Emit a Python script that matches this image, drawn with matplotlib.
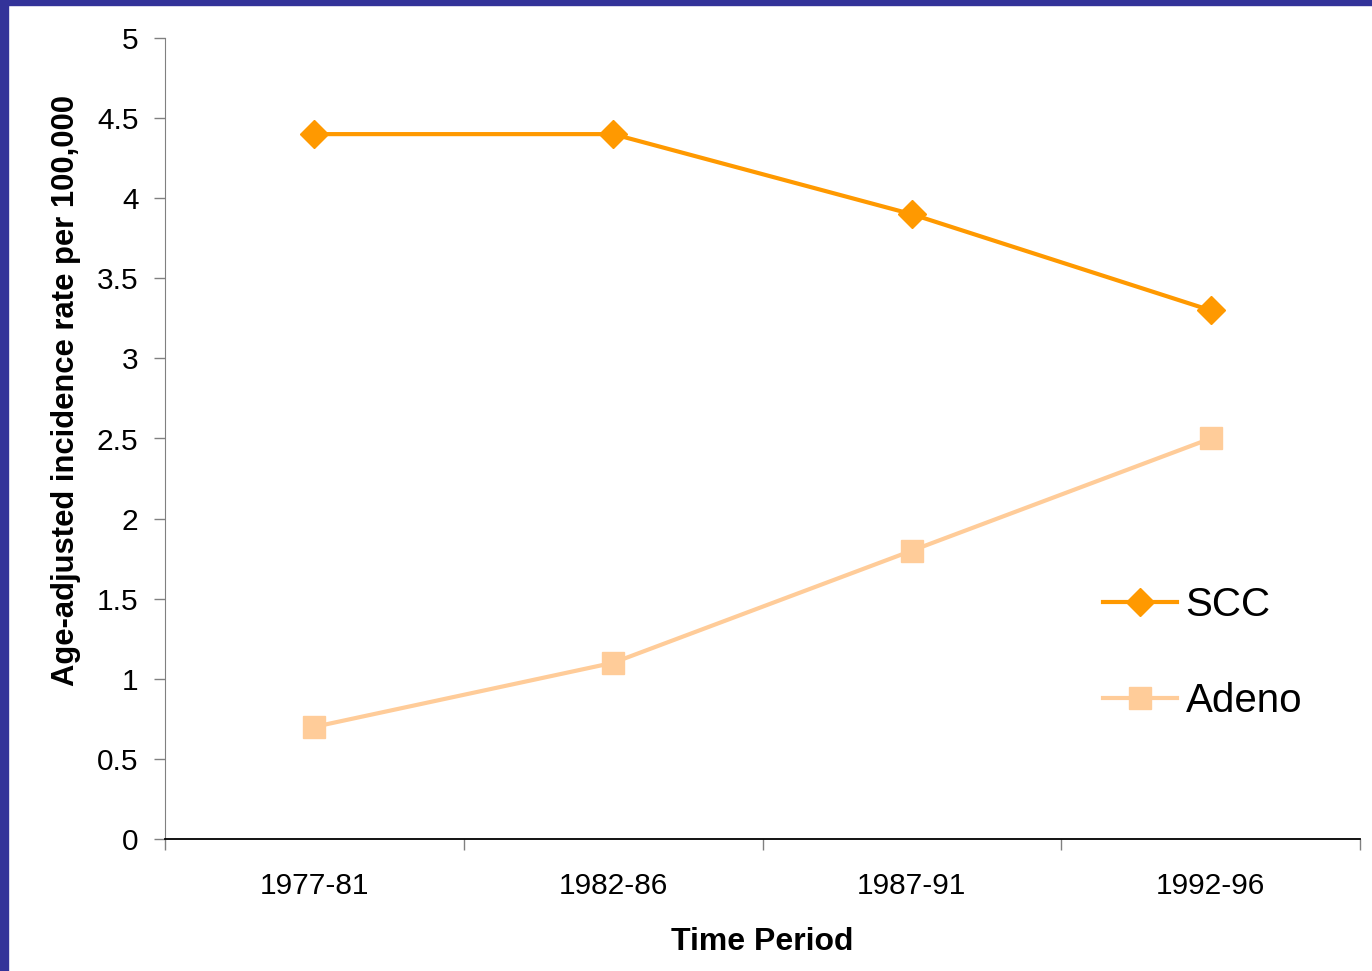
import matplotlib
matplotlib.use("Agg")
import matplotlib.pyplot as plt
from matplotlib.patches import Rectangle

periods = ["1977-81", "1982-86", "1987-91", "1992-96"]
scc = [4.4, 4.4, 3.9, 3.3]
adeno = [0.7, 1.1, 1.8, 2.5]
yticks = [0, 0.5, 1, 1.5, 2, 2.5, 3, 3.5, 4, 4.5, 5]
ytick_labels = ["0", "0.5", "1", "1.5", "2", "2.5", "3", "3.5", "4", "4.5", "5"]

plt.rcParams['font.family'] = ['Liberation Sans', 'DejaVu Sans']

W, H = 1372, 971
fig = plt.figure(figsize=(W / 100, H / 100), dpi=100)
fig.patches.append(Rectangle((0, 1 - 5 / H), 1, 5 / H, transform=fig.transFigure,
                             color="#333399", zorder=0))
fig.patches.append(Rectangle((0, 0), 8 / W, 1, transform=fig.transFigure,
                             color="#333399", zorder=0))

ax = fig.add_axes([165 / W, 1 - 839 / H, (1360 - 165) / W, (839 - 38) / H])
x = list(range(len(periods)))
ax.plot(x, scc, color="#FF9900", lw=3, marker="D", ms=14, label="SCC", clip_on=False)
ax.plot(x, adeno, color="#FFCC99", lw=3, marker="s", ms=16, label="Adeno", clip_on=False)

ax.set_xlim(-0.5, len(periods) - 0.5)
ax.set_ylim(0, 5)
ax.set_yticks(yticks)
ax.set_yticklabels(ytick_labels, fontsize=21.5)
ax.set_xticks(x)
ax.set_xticklabels(periods, fontsize=21.5)
ax.tick_params(axis='x', length=0, pad=24)
ax.set_xticks([i - 0.5 for i in range(len(periods) + 1)], minor=True)
ax.tick_params(axis='x', which='minor', length=8, width=1, color="#808080", direction='out')
ax.tick_params(axis='y', length=8, width=1, color="#808080", pad=11)

for s in ["top", "right"]:
    ax.spines[s].set_visible(False)
ax.spines["left"].set_color("#808080")
ax.spines["bottom"].set_color("black")
ax.spines["bottom"].set_linewidth(1.3)

ax.set_xlabel("Time Period", fontsize=23, fontweight="bold", labelpad=19)
ax.set_ylabel("Age-adjusted incidence rate per 100,000", fontsize=22.3, fontweight="bold")
ax.yaxis.set_label_coords(-0.07, 0.5605)

ax.legend(loc="center left", bbox_to_anchor=(0.785, 0.232), frameon=False, fontsize=29,
          handlelength=1.83, labelspacing=1.45, handletextpad=0.22,
          borderpad=0, borderaxespad=0)

fig.savefig("out.png", dpi=100)
